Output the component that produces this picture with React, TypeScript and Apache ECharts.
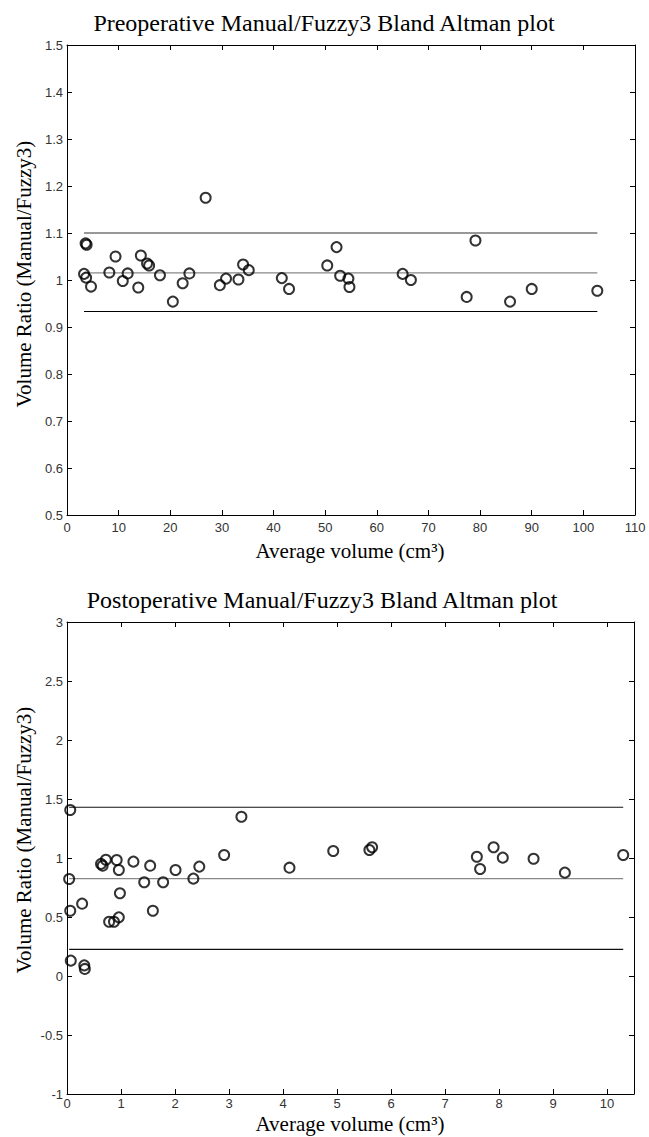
import React, { useEffect, useRef } from "react";
import * as echarts from "echarts";

// ---- Data: Preoperative (top plot) ----
const preX = [3.6, 3.8, 3.3, 3.7, 4.65, 8.2, 9.4, 10.8, 11.75, 13.8, 14.3, 15.5, 15.9, 18.0, 20.5, 22.4, 23.7, 26.85, 29.6, 30.8, 33.2, 34.1, 35.2, 41.6, 43.0, 50.4, 52.2, 52.9, 54.5, 54.7, 65.0, 66.6, 77.4, 79.1, 85.8, 90.0, 102.7];
const preY = [1.078, 1.075, 1.013, 1.005, 0.986, 1.016, 1.05, 0.998, 1.014, 0.984, 1.052, 1.035, 1.031, 1.01, 0.954, 0.993, 1.014, 1.175, 0.989, 1.003, 1.001, 1.033, 1.021, 1.004, 0.981, 1.031, 1.07, 1.009, 1.003, 0.985, 1.013, 1.0, 0.964, 1.084, 0.954, 0.981, 0.977];
const preUpper = 1.1;
const preMean = 1.015;
const preLower = 0.933;

// ---- Data: Postoperative (bottom plot) ----
const postX = [0.06, 0.04, 0.06, 0.07, 0.28, 0.32, 0.33, 0.63, 0.66, 0.72, 0.92, 0.96, 0.98, 0.78, 0.87, 0.96, 1.23, 1.43, 1.54, 1.59, 1.78, 2.01, 2.34, 2.45, 2.91, 3.23, 4.12, 4.93, 5.6, 5.65, 7.59, 7.65, 7.9, 8.07, 8.64, 9.22, 10.3];
const postY = [1.407, 0.822, 0.553, 0.13, 0.613, 0.09, 0.06, 0.95, 0.935, 0.985, 0.983, 0.898, 0.701, 0.46, 0.46, 0.497, 0.969, 0.794, 0.935, 0.553, 0.794, 0.898, 0.825, 0.927, 1.025, 1.35, 0.918, 1.059, 1.068, 1.091, 1.011, 0.907, 1.091, 1.003, 0.994, 0.876, 1.025];
const postUpper = 1.43;
const postMean = 0.825;
const postLower = 0.226;

// ---- Axis settings ----
const preXTicks = { min: 0, max: 110, interval: 10 };
const preYTicks = { min: 0.5, max: 1.5, interval: 0.1 };
const postXTicks = { min: 0, max: 10.5, interval: 1 };
const postYTicks = { min: -1, max: 3, interval: 0.5 };

const titles = [
  "Preoperative Manual/Fuzzy3 Bland Altman plot",
  "Postoperative Manual/Fuzzy3 Bland Altman plot",
];
const xName = "Average volume (cm³)";
const yName = "Volume Ratio (Manual/Fuzzy3)";

const TICK_FONT = "'Liberation Sans Narrow', 'Liberation Sans', Arial, sans-serif";
const SERIF = "'Liberation Serif', 'Times New Roman', serif";

function axisBase(gridIndex: number, position: string, showLabel: boolean, ticks: any, isX: boolean, margin: number) {
  return {
    type: "value",
    gridIndex,
    position,
    min: ticks.min,
    max: ticks.max,
    interval: ticks.interval,
    axisLine: { show: true, onZero: false, lineStyle: { color: "#000", width: 1 } },
    axisTick: { show: true, inside: true, length: 5, lineStyle: { color: "#000", width: 1 } },
    splitLine: { show: false },
    axisLabel: {
      show: showLabel,
      color: "#333",
      fontSize: 13,
      fontFamily: TICK_FONT,
      margin,
      showMaxLabel: !(isX && ticks.max % ticks.interval !== 0),
      formatter: (v: number) => {
        const r = Math.round(v * 1000) / 1000;
        return String(r);
      },
    },
  };
}

function hLine(gi: number, xs: number[], y: number, color: string) {
  return {
    type: "line",
    xAxisIndex: gi * 2,
    yAxisIndex: gi * 2,
    data: [
      [Math.min(...xs), y],
      [Math.max(...xs), y],
    ],
    symbol: "none",
    silent: true,
    lineStyle: { color, width: 1.2 },
    z: 1,
  };
}

function scatter(gi: number, xs: number[], ys: number[]) {
  return {
    type: "scatter",
    xAxisIndex: gi * 2,
    yAxisIndex: gi * 2,
    data: xs.map((x, i) => [x, ys[i]]),
    symbol: "circle",
    symbolSize: 10,
    itemStyle: { color: "rgba(0,0,0,0)", borderColor: "#000", borderWidth: 2 },
    z: 3,
  };
}

export default function App() {
  const ref = useRef<HTMLDivElement>(null);
  useEffect(() => {
    if (!ref.current) return;
    const chart = echarts.init(ref.current, undefined, { renderer: "svg" });
    const option: any = {
      animation: false,
      backgroundColor: "#fff",
      grid: [
        { left: 67, top: 45, width: 568, height: 470 },
        { left: 67, top: 622, width: 567, height: 472 },
      ],
      xAxis: [
        axisBase(0, "bottom", true, preXTicks, true, 6),
        axisBase(0, "top", false, preXTicks, true, 6),
        axisBase(1, "bottom", true, postXTicks, true, 3),
        axisBase(1, "top", false, postXTicks, true, 3),
      ],
      yAxis: [
        axisBase(0, "left", true, preYTicks, false, 4),
        axisBase(0, "right", false, preYTicks, false, 4),
        axisBase(1, "left", true, postYTicks, false, 4),
        axisBase(1, "right", false, postYTicks, false, 4),
      ],
      series: [
        hLine(0, preX, preUpper, "#333"),
        hLine(0, preX, preMean, "#888"),
        hLine(0, preX, preLower, "#000"),
        scatter(0, preX, preY),
        hLine(1, postX, postUpper, "#111"),
        hLine(1, postX, postMean, "#888"),
        hLine(1, postX, postLower, "#111"),
        scatter(1, postX, postY),
      ],
      graphic: [
        { type: "text", x: 324, y: 23, style: { text: titles[0], font: `24px ${SERIF}`, fill: "#000", align: "center", verticalAlign: "middle" } },
        { type: "text", x: 322, y: 600, style: { text: titles[1], font: `24px ${SERIF}`, fill: "#000", align: "center", verticalAlign: "middle" } },
        { type: "text", x: 350, y: 551, style: { text: xName, font: `21px ${SERIF}`, fill: "#000", align: "center", verticalAlign: "middle" } },
        { type: "text", x: 350, y: 1124, style: { text: xName, font: `21px ${SERIF}`, fill: "#000", align: "center", verticalAlign: "middle" } },
        { type: "text", x: 24, y: 274, rotation: Math.PI / 2, style: { text: yName, font: `21px ${SERIF}`, fill: "#000", align: "center", verticalAlign: "middle" } },
        { type: "text", x: 24, y: 840, rotation: Math.PI / 2, style: { text: yName, font: `21px ${SERIF}`, fill: "#000", align: "center", verticalAlign: "middle" } },
      ],
    };
    chart.setOption(option);
    return () => chart.dispose();
  }, []);
  return (
    <div
      ref={ref}
      style={{ position: "absolute", left: 0, top: 0, width: 649, height: 1137, background: "#fff" }}
    />
  );
}
